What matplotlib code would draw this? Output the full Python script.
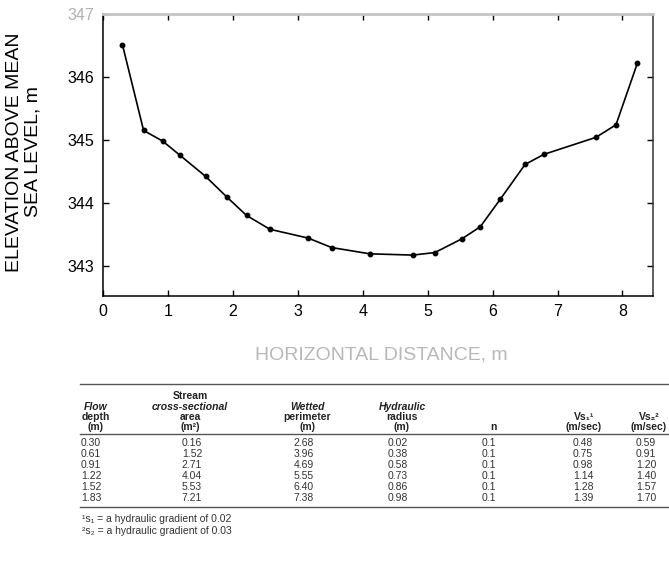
import matplotlib
matplotlib.use('Agg')
import matplotlib.pyplot as plt

# ---- data ----
distance = [0.30, 0.625, 0.92, 1.18, 1.58, 1.91, 2.21, 2.57, 3.16, 3.52, 4.11,
            4.77, 5.11, 5.53, 5.81, 6.12, 6.50, 6.79, 7.59, 7.90, 8.23]
elevation = [346.51, 345.15, 344.98, 344.76, 344.42, 344.09, 343.80, 343.58,
             343.44, 343.29, 343.19, 343.17, 343.21, 343.43, 343.62, 344.06,
             344.61, 344.77, 345.04, 345.24, 346.22]
x_ticks = [0, 1, 2, 3, 4, 5, 6, 7, 8]
y_ticks = [343, 344, 345, 346, 347]

header_cols = [
    ["", "Flow", "depth", "(m)"],
    ["Stream", "cross-sectional", "area", "(m²)"],
    ["", "Wetted", "perimeter", "(m)"],
    ["", "Hydraulic", "radius", "(m)"],
    ["", "", "", "n"],
    ["", "", "Vs₁¹", "(m/sec)"],
    ["", "", "Vs₂²", "(m/sec)"],
]
flow_depth = ["0.30", "0.61", "0.91", "1.22", "1.52", "1.83"]
area = ["0.16", "1.52", "2.71", "4.04", "5.53", "7.21"]
perimeter = ["2.68", "3.96", "4.69", "5.55", "6.40", "7.38"]
radius = ["0.02", "0.38", "0.58", "0.73", "0.86", "0.98"]
n_vals = ["0.1", "0.1", "0.1", "0.1", "0.1", "0.1"]
vs1 = ["0.48", "0.75", "0.98", "1.14", "1.28", "1.39"]
vs2 = ["0.59", "0.91", "1.20", "1.40", "1.57", "1.70"]
footnotes = ["¹s₁ = a hydraulic gradient of 0.02",
             "²s₂ = a hydraulic gradient of 0.03"]

FAM = ['Liberation Sans', 'DejaVu Sans']
plt.rcParams['font.family'] = FAM

W, H = 669, 579
fig = plt.figure(figsize=(W / 100, H / 100), dpi=100)


def fx(x):
    return x / W


def fy(y):
    return 1 - y / H


ax = fig.add_axes([fx(103), fy(296), (653 - 103) / W, (296 - 14) / H])
ax.plot(distance, elevation, color='black', lw=1.2, marker='o', ms=3.2,
        mfc='black', mec='black')
ax.set_xlim(0, 8.47)
ax.set_ylim(342.52, 347)
ax.set_xticks(x_ticks)
ax.set_yticks(y_ticks)
ax.tick_params(direction='in', length=4, width=1, top=True, right=True,
               labelsize=11.5, pad=6, colors='black')
for lab in ax.get_yticklabels():
    if lab.get_text() == '347':
        lab.set_color('#b0b0b0')
ax.spines['top'].set_color('#c4c4c4')
ax.spines['top'].set_linewidth(2)
for s in ['left', 'bottom', 'right']:
    ax.spines[s].set_linewidth(1.1)
ax.spines['right'].set_color('#333333')

fig.text(fx(24), fy(152), "ELEVATION ABOVE MEAN\nSEA LEVEL, m", rotation=90,
         ha='center', va='center', fontsize=14, linespacing=1.1,
         multialignment='center')
fig.text(fx(381), fy(355), "HORIZONTAL DISTANCE, m", ha='center',
         va='center', fontsize=14, color='#b8b8b8')

# ---- table ----
line_c = '#555555'
for yl in [384, 434, 507]:
    fig.add_artist(plt.Line2D([fx(80), fx(669)], [fy(yl), fy(yl)],
                              color=line_c, lw=1.0))

head_x = [96, 190, 307, 402, 493, 584, 649]
head_y = [396, 407, 417, 427]
tc = '#222222'
for cx, col in zip(head_x, header_cols):
    for i, t in enumerate(col):
        if not t:
            continue
        style = 'italic' if i == 1 else 'normal'
        fig.text(fx(cx), fy(head_y[i]), t, ha='center', va='center',
                 fontsize=7.5, fontweight='bold', style=style, color=tc)

val_x = [91, 192, 304, 398, 489, 583, 646]
columns = [flow_depth, area, perimeter, radius, n_vals, vs1, vs2]
row_y0, row_dy = 443, 11
for cx, col in zip(val_x, columns):
    for r, t in enumerate(col):
        fig.text(fx(cx), fy(row_y0 + r * row_dy), t, ha='center',
                 va='center', fontsize=7.5, color='#333333')

for i, t in enumerate(footnotes):
    fig.text(fx(82), fy(519 + i * 12), t, ha='left', va='center',
             fontsize=7.5, color='#333333')

fig.savefig('out.png', dpi=100)
